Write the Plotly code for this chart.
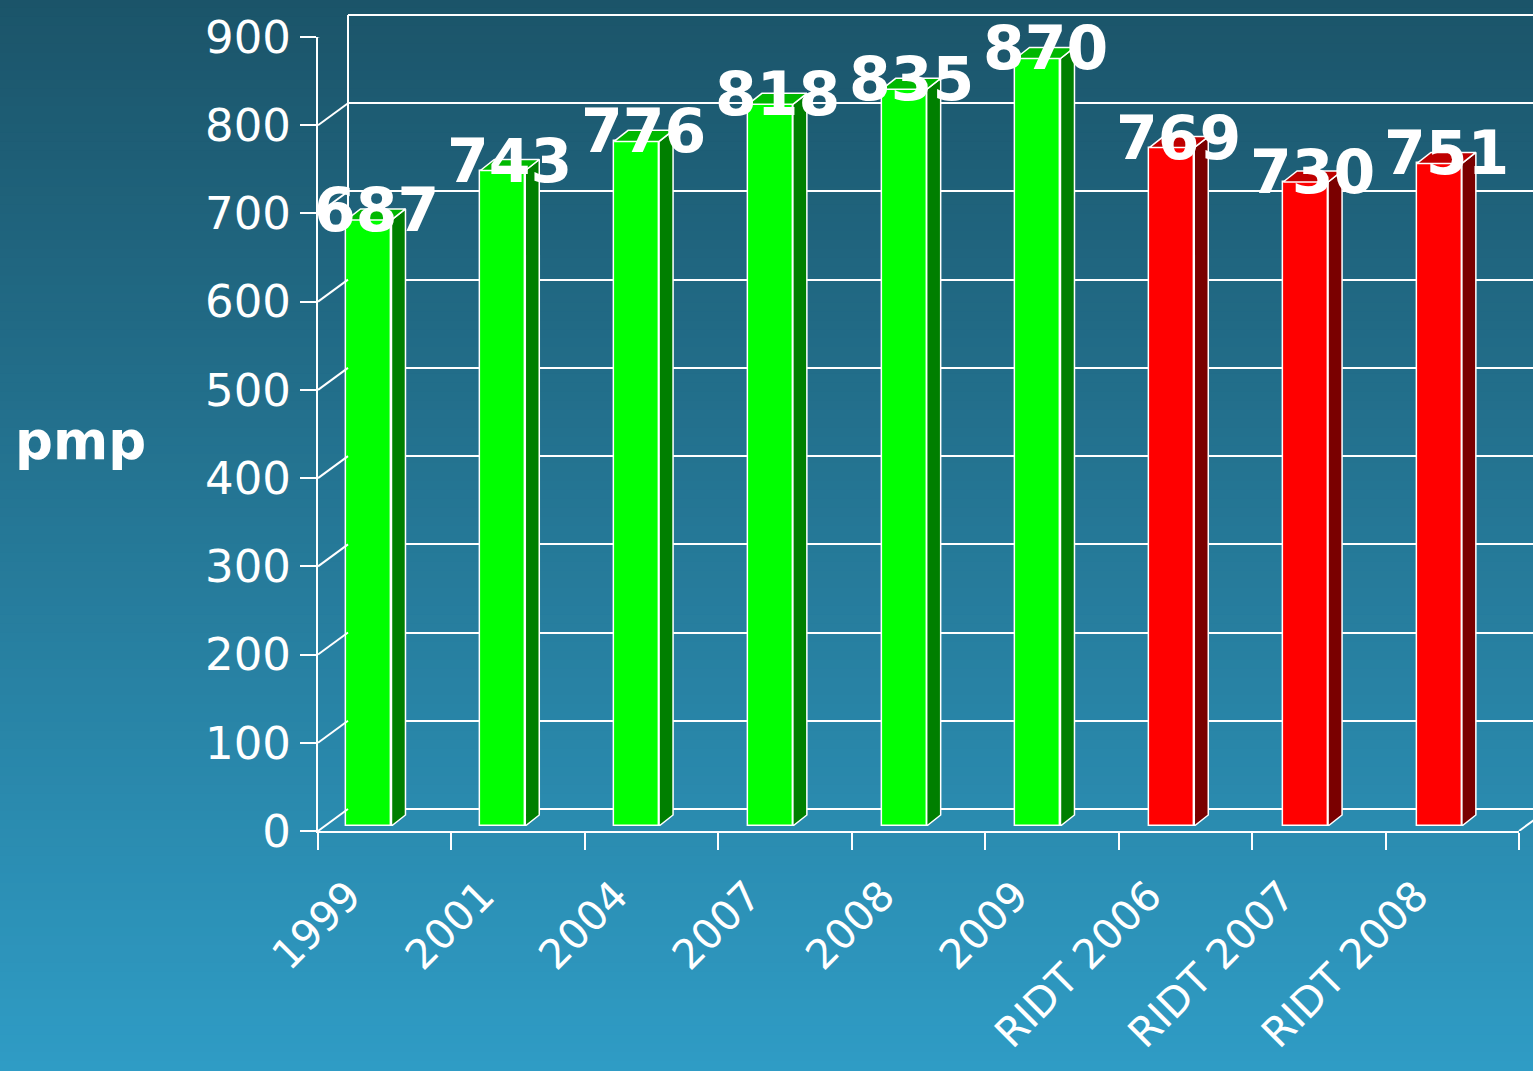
import plotly.graph_objects as go

# ---------------- data ----------------
categories = ["1999", "2001", "2004", "2007", "2008", "2009", "RIDT 2006", "RIDT 2007", "RIDT 2008"]
values = [687, 743, 776, 818, 835, 870, 769, 730, 751]
group = ["g", "g", "g", "g", "g", "g", "r", "r", "r"]
y_ticks = [0, 100, 200, 300, 400, 500, 600, 700, 800, 900]

W, H = 1533, 1071
face_col = {"g": "#00ff00", "r": "#ff0000"}
side_col = {"g": "#007f00", "r": "#7a0000"}
top_col = {"g": "#00b800", "r": "#bf0000"}

BAR_W = 0.336      # bar width in category units
DX = 0.1046        # 3D depth offset (x units of bar plane)
DY = 12.5          # 3D depth offset (y units)
PXU = 794 / 900    # pixels per y unit

fig = go.Figure()

# background gradient (decoration)
top_rgb = (27, 84, 105)
bot_rgb = (47, 156, 197)
nb = 120
for k in range(nb):
    t = (k + 0.5) / nb
    c = tuple(round(top_rgb[j] + (bot_rgb[j] - top_rgb[j]) * t) for j in range(3))
    fig.add_shape(type="rect", xref="paper", yref="paper", x0=0, x1=1,
                  y0=1 - (k + 1) / nb - 0.001, y1=1 - k / nb + 0.001,
                  fillcolor="rgb(%d,%d,%d)" % c, line_width=0, layer="below")

# back wall subplot (x, y)
fig.add_trace(go.Scatter(x=[0.5], y=[0], mode="markers", marker=dict(opacity=0),
                         hoverinfo="skip", showlegend=False, xaxis="x", yaxis="y"))

# front frame subplot (x2, y2)
fig.add_trace(go.Scatter(x=categories, y=values, mode="markers", marker=dict(opacity=0),
                         hoverinfo="skip", showlegend=False, xaxis="x2", yaxis="y2"))

# bars on bar plane (x3, y3)
idx = list(range(len(categories)))
fig.add_trace(go.Bar(x=idx, y=values, width=BAR_W,
                     marker=dict(color=[face_col[g] for g in group],
                                 line=dict(color="white", width=1.5)),
                     hoverinfo="skip", showlegend=False, xaxis="x3", yaxis="y3"))

for i, v, g in zip(idx, values, group):
    xl = i - BAR_W / 2
    xr = i + BAR_W / 2
    # side face
    fig.add_trace(go.Scatter(x=[xr, xr + DX, xr + DX, xr, xr], y=[0, DY, v + DY, v, 0],
                             mode="lines", fill="toself", fillcolor=side_col[g],
                             line=dict(color="white", width=1.5), hoverinfo="skip",
                             showlegend=False, xaxis="x3", yaxis="y3"))
    # top face
    fig.add_trace(go.Scatter(x=[xl, xr, xr + DX, xl + DX, xl], y=[v, v, v + DY, v + DY, v],
                             mode="lines", fill="toself", fillcolor=top_col[g],
                             line=dict(color="white", width=1.5), hoverinfo="skip",
                             showlegend=False, xaxis="x3", yaxis="y3"))
    # value label
    fig.add_annotation(x=i + DX / 2, y=v, xref="x3", yref="y3", text=str(v),
                       showarrow=False, yshift=10, xanchor="center", yanchor="middle",
                       font=dict(family="DejaVu Sans", size=60, color="white", weight="bold"))

# side-wall connectors and floor edge
for v in y_ticks:
    fig.add_shape(type="line", xref="x2 domain", xsizemode="pixel", xanchor=0, x0=0, x1=30,
                  yref="y2", ysizemode="pixel", yanchor=v, y0=0, y1=22,
                  line=dict(color="white", width=2))
fig.add_shape(type="line", xref="x2 domain", xsizemode="pixel", xanchor=1, x0=0, x1=30,
              yref="y2", ysizemode="pixel", yanchor=0, y0=0, y1=22,
              line=dict(color="white", width=2))

fig.add_annotation(x=80 / W, y=1 - 440 / H, xref="paper", yref="paper", text="pmp",
                   showarrow=False, xanchor="center", yanchor="middle",
                   font=dict(family="DejaVu Sans", size=53, color="white", weight="bold"))

tickfont = dict(family="DejaVu Sans", size=45, color="white")
fig.update_layout(
    template="none",
    width=W, height=H, margin=dict(l=0, r=0, t=0, b=0, pad=0), autosize=False,
    paper_bgcolor="rgb(47,156,197)", plot_bgcolor="rgba(0,0,0,0)",
    showlegend=False, bargap=0,
    xaxis=dict(domain=[348 / W, 1], range=[0, 1], visible=False, anchor="y", automargin=False),
    yaxis=dict(domain=[1 - 809 / H, 1 - (15 - 3 * PXU) / H], range=[0, 903], anchor="x",
               automargin=False,
               tickvals=y_ticks, showgrid=True, gridcolor="white", gridwidth=2,
               zeroline=True, zerolinecolor="white", zerolinewidth=2,
               showline=False, showticklabels=False, ticks=""),
    xaxis2=dict(domain=[318 / W, 1519 / W], type="category", categoryorder="array",
                categoryarray=categories, range=[-0.5, 8.5], anchor="y2", automargin=False,
                tickson="boundaries", ticks="outside", ticklen=17, tickwidth=2,
                tickcolor="white", showline=True, linecolor="white", linewidth=2,
                showgrid=False, zeroline=False, tickangle=-45,
                ticklabelshift=-36, ticklabelstandoff=22,
                tickfont=dict(family="DejaVu Sans", size=41, color="white")),
    yaxis2=dict(domain=[1 - 831 / H, 1 - 37 / H], range=[0, 900], anchor="x2", automargin=False,
                tickvals=y_ticks, ticks="outside", ticklen=16, tickwidth=2,
                tickcolor="white", showline=True, linecolor="white", linewidth=2,
                showgrid=False, zeroline=False, tickfont=tickfont),
    xaxis3=dict(domain=[302.1 / W, 1506.3 / W], range=[-0.5, 8.5], visible=False, anchor="y3",
                automargin=False),
    yaxis3=dict(domain=[1 - 826 / H, 1 - 32 / H], range=[0, 900], visible=False, anchor="x3",
                automargin=False),
)

# back wall left edge (from floor to top of wall)
fig.add_shape(type="line", xref="x domain", yref="y", x0=0, x1=0, y0=0, y1=900,
              line=dict(color="white", width=2), layer="below")

fig.write_html("out.html", config={"displayModeBar": False},
               post_script="document.body.style.margin='0';document.body.style.overflow='hidden';")
